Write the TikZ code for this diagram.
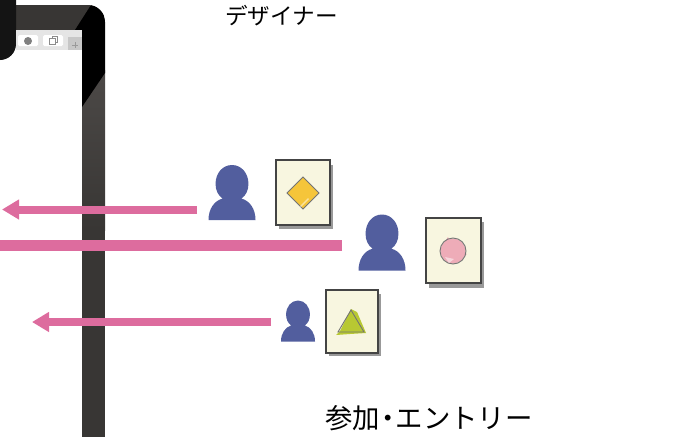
\documentclass[tikz,border=0pt]{standalone}
\usepackage{fontspec}
\newfontfamily\cjk{Noto Sans CJK JP}
\definecolor{pinkarrow}{HTML}{DD6C9E}
\definecolor{userblue}{HTML}{525E9E}
\definecolor{cardfill}{HTML}{F8F6E0}
\definecolor{cardedge}{HTML}{444444}
\definecolor{framedark}{HTML}{383634}
\definecolor{framelight}{HTML}{4C4947}
\definecolor{markyellow}{HTML}{F5C53A}
\definecolor{markpink}{HTML}{EEACB8}
\definecolor{markgreen}{HTML}{B8C832}
\usetikzlibrary{arrows.meta}
\tikzset{
  flow/.style={draw=pinkarrow,line width=8pt},
  flowhead/.style={flow,-{Triangle[length=17pt,width=19pt]}},
  card/.style={draw=cardedge,line width=2pt,fill=cardfill,inner sep=0pt,
    minimum width=#1,minimum height=65pt},
  cardshade/.style={fill=black!40},
  mark edge/.style={draw=black!55,line width=.9pt},
  caption/.style={inner sep=0pt},
  person/.pic={
    \fill[userblue] (0,-1) .. controls (-.21,-1) and (-.35,-.84) .. (-.35,-.66)
      .. controls (-.35,-.54) and (-.3,-.45) .. (-.2,-.39)
      .. controls (-.38,-.35) and (-.5,-.2) .. (-.5,0)
      -- (.5,0)
      .. controls (.5,-.2) and (.38,-.35) .. (.2,-.39)
      .. controls (.3,-.45) and (.35,-.54) .. (.35,-.66)
      .. controls (.35,-.84) and (.21,-1) .. (0,-1) -- cycle;
  }
}
\begin{document}
\begin{tikzpicture}[x=1pt,y=-1pt]
\useasboundingbox (0,0) rectangle (675,437);

% frame of the device
\fill[framedark] (82,230) rectangle (105,437);
\shade[top color=framelight,bottom color=framedark]
  (82,70) rectangle (105,230);
\begin{scope}
\clip[rounded corners=17pt] (-30,5) rectangle (105,120);
\fill[framedark] (0,5) rectangle (105,30);
\fill[black] (91,5) -- (110,5) -- (110,73) -- (105,73) -- (82,107) -- (82,30) -- (75,30) -- cycle;
\end{scope}
\fill[black!92,rounded corners=16pt] (-30,-30) rectangle (16,60);

% toolbar
\fill[black!10] (16,30) rectangle (82,50);
\fill[black!22] (68,37) rectangle (82,50);
\fill[white,rounded corners=1.5pt] (18,35) rectangle (38,46);
\fill[white,rounded corners=1.5pt] (43,35) rectangle (63,46);
\fill[black!50] (28,41) circle (4);
\draw[black!45,line width=.8pt] (49,38) rectangle (55,44) (52,38) -- (52,36.5) -- (57,36.5) -- (57,42) -- (55,42);
\draw[black!40,line width=.5pt] (72,45) -- (78,45) (75,42) -- (75,48);

% arrows
\coordinate (topstart) at (197,209.5);
\coordinate (topend) at (2,209.5);
\coordinate (midstart) at (342,245.5);
\coordinate (midend) at (0,245.5);
\coordinate (lowstart) at (271,322);
\coordinate (lowend) at (32,322);
\draw[flowhead] (topstart) -- (topend);
\draw[flow,line width=11pt] (midstart) -- (midend);
\draw[flowhead] (lowstart) -- (lowend);

% people
\coordinate (usertop) at (232,220);
\coordinate (usermid) at (382,270.5);
\coordinate (userlow) at (298,341.5);
\pic[x=47pt,y=-55pt] at (usertop) {person};
\pic[x=47pt,y=-56pt] at (usermid) {person};
\pic[x=34pt,y=-41pt] at (userlow) {person};

% cards
\fill[cardshade] (279,165) rectangle (333,229);
\node[card=54pt] (carddiamond) at (302.5,192.5) {};
\fill[cardshade] (429,222) rectangle (484,288);
\node[card=55pt,minimum height=65pt] (cardcircle) at (453,250.5) {};
\fill[cardshade] (329,294) rectangle (381,356);
\node[card=52pt,minimum height=63pt] (cardtriangle) at (352,321) {};

% marks
\draw[mark edge,fill=markyellow] (303,177) -- (319,193) -- (303,209) -- (287,193) -- cycle;
\fill[white,opacity=.5] (300,206) -- (308,198) -- (309,199) -- (301,207) -- cycle;
\fill[markpink] (448,237) -- (453,250) -- (467,254) -- (453,264) -- (440,250) -- cycle;
\fill[markpink] (453,251) circle (12.5);
\draw[mark edge] (453,251) circle (13);
\fill[white,opacity=.5] (445,257) -- (454,259) -- (449,263) -- cycle;
\fill[markgreen] (336,335) -- (340,331) -- (351,309) -- (357,312) -- (366,333) -- (350,334) -- cycle;
\draw[mark edge] (338,332) -- (351,310) -- (364,332) -- cycle;

% labels
\node[caption,font=\cjk\fontsize{22.6}{24}\selectfont] (designer) at (281.5,15.5) {デザイナー};
\node[caption,font=\cjk\fontsize{27.4}{30}\selectfont] (entry) at (429,418) {参加\kern-6pt・\kern-6pt エントリー};
\end{tikzpicture}
\end{document}
